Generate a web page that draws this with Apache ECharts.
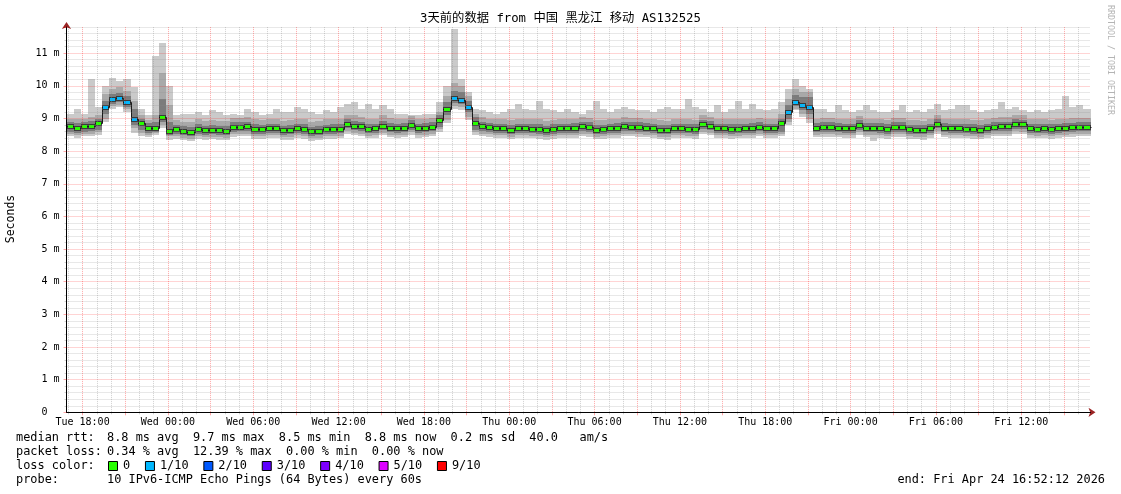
<!DOCTYPE html>
<html><head><meta charset="utf-8">
<style>html,body{margin:0;padding:0;background:#fff}#c{width:1121px;height:494px}</style>
<script src="https://cdn.jsdelivr.net/npm/echarts@6/dist/echarts.min.js"></script>
</head><body><div id="c"></div>
<script>
// ---- time base (hours since Tue 00:00), 30-minute bins ----
const startHour = 16.87;          // Tue 16:52:12
const endHour = 88.87;            // Fri 16:52:12
const binHours = 0.5;
const dayNames = ['Tue', 'Wed', 'Thu', 'Fri'];
const xLabelHours = [18, 24, 30, 36, 42, 48, 54, 60, 66, 72, 78, 84];
const yLabelValues = [0, 1, 2, 3, 4, 5, 6, 7, 8, 9, 10, 11];

// ---- median rtt (ms) per bin ----
const median = [
  8.76, 8.71, 8.76, 8.77, 8.85, 9.35, 9.6, 9.64, 9.5, 9.0, 8.85, 8.7, 8.72, 9.05, 8.62,
  8.67, 8.62, 8.6, 8.68, 8.64, 8.66, 8.64, 8.63, 8.74, 8.75, 8.76, 8.68, 8.67, 8.7, 8.7, 8.64, 8.65, 8.7, 8.68, 8.61, 8.63, 8.67, 8.68, 8.69, 8.84, 8.78, 8.76, 8.69, 8.7,
  8.78, 8.72, 8.7, 8.72, 8.8, 8.7, 8.72, 8.75, 8.95, 9.3, 9.62, 9.58, 9.35, 8.85,
  8.76, 8.73, 8.7, 8.7, 8.66, 8.7, 8.7, 8.69, 8.68, 8.64, 8.68, 8.7, 8.7, 8.71, 8.76, 8.74, 8.66, 8.67, 8.7, 8.71, 8.76, 8.75, 8.74, 8.72, 8.7, 8.66, 8.65, 8.7, 8.7, 8.69, 8.68, 8.82, 8.78, 8.7, 8.7, 8.68, 8.69, 8.7, 8.71,
  8.75, 8.7, 8.7, 8.85, 9.2, 9.52, 9.4, 9.35,
  8.72, 8.74, 8.74, 8.72, 8.7, 8.7, 8.8, 8.72, 8.72, 8.71, 8.68, 8.74, 8.74, 8.67, 8.66, 8.65, 8.7, 8.84, 8.72, 8.7, 8.7, 8.69, 8.68, 8.66, 8.7, 8.75, 8.76, 8.76, 8.83, 8.82, 8.7, 8.69, 8.7, 8.68, 8.7, 8.72, 8.73, 8.75, 8.75
];
// ---- smoke: outermost (min..max ping) ----
const pingMax = [
  9.15, 9.3, 9.15, 10.2, 9.35, 10.0, 10.25, 10.15, 10.2, 9.95, 9.3, 9.1, 10.9, 11.3, 10.0,
  9.1, 9.15, 9.15, 9.2, 9.1, 9.25, 9.2, 9.1, 9.15, 9.1, 9.3, 9.2, 9.1, 9.15, 9.3, 9.2, 9.2, 9.35, 9.3, 9.2, 9.15, 9.25, 9.2, 9.35, 9.45, 9.5, 9.3, 9.45, 9.3,
  9.4, 9.3, 9.15, 9.15, 9.1, 9.1, 9.15, 9.15, 9.5, 10.0, 11.75, 10.2, 9.8, 9.3,
  9.25, 9.2, 9.15, 9.2, 9.3, 9.45, 9.3, 9.25, 9.55, 9.3, 9.25, 9.2, 9.3, 9.2, 9.15, 9.25, 9.55, 9.3, 9.2, 9.3, 9.35, 9.3, 9.25, 9.25, 9.2, 9.3, 9.35, 9.3, 9.3, 9.6, 9.35, 9.3, 9.2, 9.4, 9.2, 9.3, 9.55, 9.3, 9.45,
  9.3, 9.25, 9.3, 9.5, 9.9, 10.2, 10.0, 9.9,
  9.3, 9.3, 9.2, 9.4, 9.25, 9.2, 9.25, 9.4, 9.25, 9.2, 9.2, 9.25, 9.4, 9.2, 9.25, 9.2, 9.3, 9.45, 9.25, 9.3, 9.4, 9.4, 9.25, 9.2, 9.25, 9.3, 9.5, 9.3, 9.35, 9.25, 9.2, 9.25, 9.2, 9.25, 9.3, 9.7, 9.35, 9.4, 9.3
];
const pingMin = [
  8.45, 8.4, 8.45, 8.45, 8.5, 8.9, 9.3, 9.35, 9.2, 8.55, 8.45, 8.42, 8.48, 8.7, 8.35,
  8.38, 8.33, 8.3, 8.38, 8.34, 8.36, 8.35, 8.33, 8.44, 8.45, 8.46, 8.38, 8.37, 8.4, 8.4, 8.34, 8.35, 8.4, 8.38, 8.31, 8.33, 8.37, 8.38, 8.39, 8.54, 8.48, 8.46, 8.39, 8.4,
  8.48, 8.42, 8.4, 8.42, 8.5, 8.4, 8.42, 8.45, 8.6, 8.85, 9.3, 9.25, 8.95, 8.5,
  8.46, 8.43, 8.4, 8.4, 8.36, 8.4, 8.4, 8.39, 8.38, 8.34, 8.38, 8.4, 8.4, 8.41, 8.46, 8.44, 8.36, 8.37, 8.4, 8.41, 8.46, 8.45, 8.44, 8.42, 8.4, 8.36, 8.35, 8.4, 8.4, 8.39, 8.38, 8.52, 8.48, 8.4, 8.4, 8.38, 8.39, 8.4, 8.41,
  8.45, 8.4, 8.4, 8.45, 8.8, 9.25, 9.05, 8.85,
  8.42, 8.44, 8.44, 8.42, 8.4, 8.4, 8.5, 8.42, 8.3, 8.41, 8.38, 8.44, 8.44, 8.37, 8.36, 8.35, 8.4, 8.54, 8.42, 8.4, 8.4, 8.39, 8.38, 8.36, 8.4, 8.45, 8.46, 8.46, 8.53, 8.52, 8.4, 8.39, 8.4, 8.38, 8.4, 8.42, 8.43, 8.45, 8.45
];
// ---- smoke: second band ----
const band2Hi = [
  8.98, 8.98, 9.0, 9.05, 9.1, 9.75, 9.9, 9.95, 9.85, 9.55, 9.1, 8.95, 9.1, 10.4, 9.4,
  8.95, 8.9, 8.9, 8.97, 8.92, 8.95, 8.93, 8.92, 9.02, 9.02, 9.05, 8.97, 8.95, 9.0, 9.0, 8.93, 8.95, 9.0, 8.98, 8.9, 8.93, 8.97, 8.98, 9.0, 9.12, 9.1, 9.05, 9.0, 9.0,
  9.1, 9.02, 8.98, 9.0, 9.08, 8.98, 9.0, 9.03, 9.2, 9.7, 10.1, 10.0, 9.7, 9.15,
  9.04, 9.0, 8.98, 8.98, 8.95, 8.98, 8.98, 8.97, 8.98, 8.92, 8.96, 8.98, 8.98, 9.0, 9.04, 9.02, 8.95, 8.95, 8.98, 9.0, 9.04, 9.03, 9.02, 9.0, 8.98, 8.95, 8.93, 8.98, 8.98, 8.98, 8.96, 9.1, 9.06, 8.98, 8.98, 8.97, 8.98, 8.98, 9.0,
  9.03, 8.98, 8.98, 9.15, 9.6, 9.9, 9.8, 9.8,
  9.0, 9.02, 9.02, 9.0, 8.98, 8.98, 9.08, 9.0, 9.0, 9.0, 8.96, 9.02, 9.02, 8.95, 8.94, 8.93, 8.98, 9.12, 9.0, 8.98, 8.98, 8.97, 8.96, 8.94, 8.98, 9.03, 9.04, 9.04, 9.1, 9.1, 8.98, 8.97, 8.98, 8.96, 8.98, 9.0, 9.01, 9.03, 9.03
];
const band2Lo = [
  8.52, 8.48, 8.52, 8.54, 8.58, 9.0, 9.38, 9.42, 9.28, 8.7, 8.55, 8.5, 8.55, 8.8, 8.45,
  8.45, 8.4, 8.38, 8.46, 8.42, 8.44, 8.42, 8.41, 8.52, 8.53, 8.54, 8.46, 8.45, 8.48, 8.48, 8.42, 8.43, 8.48, 8.46, 8.39, 8.41, 8.45, 8.46, 8.47, 8.62, 8.56, 8.54, 8.47, 8.48,
  8.56, 8.5, 8.48, 8.5, 8.58, 8.48, 8.5, 8.53, 8.68, 8.95, 9.38, 9.35, 9.05, 8.58,
  8.54, 8.51, 8.48, 8.48, 8.44, 8.48, 8.48, 8.47, 8.46, 8.42, 8.46, 8.48, 8.48, 8.49, 8.54, 8.52, 8.44, 8.45, 8.48, 8.49, 8.54, 8.53, 8.52, 8.5, 8.48, 8.44, 8.43, 8.48, 8.48, 8.47, 8.46, 8.6, 8.56, 8.48, 8.48, 8.46, 8.47, 8.48, 8.49,
  8.53, 8.48, 8.48, 8.52, 8.9, 9.3, 9.15, 9.0,
  8.5, 8.52, 8.52, 8.5, 8.48, 8.48, 8.58, 8.5, 8.5, 8.49, 8.46, 8.52, 8.52, 8.45, 8.44, 8.43, 8.48, 8.62, 8.5, 8.48, 8.48, 8.47, 8.46, 8.44, 8.48, 8.53, 8.54, 8.54, 8.61, 8.6, 8.48, 8.47, 8.48, 8.46, 8.48, 8.5, 8.51, 8.53, 8.53
];
// ---- smoke: inner band ----
const band3Hi = [
  8.9, 8.85, 8.9, 8.92, 9.0, 9.55, 9.75, 9.78, 9.68, 9.3, 9.0, 8.85, 8.9, 9.6, 8.9,
  8.81, 8.76, 8.74, 8.82, 8.78, 8.8, 8.78, 8.77, 8.88, 8.89, 8.9, 8.82, 8.81, 8.84, 8.84, 8.78, 8.79, 8.84, 8.82, 8.75, 8.77, 8.81, 8.82, 8.83, 8.98, 8.92, 8.9, 8.83, 8.84,
  8.92, 8.86, 8.84, 8.86, 8.94, 8.84, 8.86, 8.89, 9.1, 9.5, 9.85, 9.8, 9.55, 9.05,
  8.9, 8.87, 8.84, 8.84, 8.8, 8.84, 8.84, 8.83, 8.82, 8.78, 8.82, 8.84, 8.84, 8.85, 8.9, 8.88, 8.8, 8.81, 8.84, 8.85, 8.9, 8.89, 8.88, 8.86, 8.84, 8.8, 8.79, 8.84, 8.84, 8.83, 8.82, 8.96, 8.92, 8.84, 8.84, 8.82, 8.83, 8.84, 8.85,
  8.89, 8.84, 8.84, 9.0, 9.4, 9.72, 9.65, 9.65,
  8.86, 8.88, 8.88, 8.86, 8.84, 8.84, 8.94, 8.86, 8.86, 8.85, 8.82, 8.88, 8.88, 8.81, 8.8, 8.79, 8.84, 8.98, 8.86, 8.84, 8.84, 8.83, 8.82, 8.8, 8.84, 8.89, 8.9, 8.9, 8.97, 8.96, 8.84, 8.83, 8.84, 8.82, 8.84, 8.86, 8.87, 8.89, 8.89
];
const band3Lo = [
  8.6, 8.56, 8.6, 8.62, 8.65, 9.15, 9.45, 9.5, 9.36, 8.8, 8.65, 8.56, 8.6, 8.9, 8.5,
  8.53, 8.48, 8.46, 8.54, 8.5, 8.52, 8.5, 8.49, 8.6, 8.61, 8.62, 8.54, 8.53, 8.56, 8.56, 8.5, 8.51, 8.56, 8.54, 8.47, 8.49, 8.53, 8.54, 8.55, 8.7, 8.64, 8.62, 8.55, 8.56,
  8.64, 8.58, 8.56, 8.58, 8.66, 8.56, 8.58, 8.61, 8.75, 9.1, 9.48, 9.45, 9.2, 8.65,
  8.62, 8.59, 8.56, 8.56, 8.52, 8.56, 8.56, 8.55, 8.54, 8.5, 8.54, 8.56, 8.56, 8.57, 8.62, 8.6, 8.52, 8.53, 8.56, 8.57, 8.62, 8.61, 8.6, 8.58, 8.56, 8.52, 8.51, 8.56, 8.56, 8.55, 8.54, 8.68, 8.64, 8.56, 8.56, 8.54, 8.55, 8.56, 8.57,
  8.61, 8.56, 8.56, 8.6, 9.0, 9.38, 9.25, 9.15,
  8.58, 8.6, 8.6, 8.58, 8.56, 8.56, 8.66, 8.58, 8.58, 8.57, 8.54, 8.6, 8.6, 8.53, 8.52, 8.51, 8.56, 8.7, 8.58, 8.56, 8.56, 8.55, 8.54, 8.52, 8.56, 8.61, 8.62, 8.62, 8.69, 8.68, 8.56, 8.55, 8.56, 8.54, 8.56, 8.58, 8.59, 8.61, 8.61
];
// ---- packet loss per bin (pings lost out of 10) ----
const lossPings = [
  0,0,0,0,0,1,1,1,1,1,0,0,0,0,0,0,0,0,0,0,0,0,0,0,
  0,0,0,0,0,0,0,0,0,0,0,0,0,0,0,0,0,0,0,0,0,0,0,0,
  0,0,0,0,0,0,1,1,1,0,0,0,0,0,0,0,0,0,0,0,0,0,0,0,
  0,0,0,0,0,0,0,0,0,0,0,0,0,0,0,0,0,0,0,0,0,0,0,0,
  0,0,0,0,0,1,1,1,1,0,0,0,0,0,0,0,0,0,0,0,0,0,0,0,
  0,0,0,0,0,0,0,0,0,0,0,0,0,0,0,0,0,0,0,0,0,0,0,0
];
const lossLevels = ['0', '1/10', '2/10', '3/10', '4/10', '5/10', '9/10'];
const lossColors = ['#26ff00', '#00b8ff', '#0059ff', '#5e00ff', '#7e00ff', '#dd00ff', '#ff0000'];

const mono = "'DejaVu Sans Mono', monospace";
const minorCol = 'rgba(140,140,140,0.4)';
const majorCol = 'rgba(255,0,0,0.34)';

function fmtHour(v) {
  const d = Math.floor(v / 24), h = Math.round(v - d * 24);
  return dayNames[d] + ' ' + (h < 10 ? '0' : '') + h + ':00';
}
const hourTicks = [], threeHourTicks = [];
for (let h = Math.ceil(startHour); h <= endHour; h++) {
  if (h % 3 === 0) threeHourTicks.push(h); else hourTicks.push(h);
}
const yMinorTicks = [];
for (let k = 1; k <= 59; k++) if (k % 5 !== 0) yMinorTicks.push(Math.round(k * 2) / 10);

function binRows(lo, hi) {
  return lo.map((v, i) => [startHour + i * binHours, Math.min(endHour, startHour + (i + 1) * binHours), v, hi[i]]);
}
function bandSeries(lo, hi, color, z) {
  return {
    type: 'custom', xAxisIndex: 0, yAxisIndex: 0, z: z, silent: true, clip: true,
    data: binRows(lo, hi), encode: { x: [0, 1], y: [2, 3] },
    renderItem: function (params, api) {
      const a = api.coord([api.value(0), api.value(3)]);
      const b = api.coord([api.value(1), api.value(2)]);
      const x0 = Math.round(a[0]), x1 = Math.round(b[0]);
      const y0 = Math.round(a[1]), y1 = Math.round(b[1]);
      return { type: 'rect', shape: { x: x0, y: y0, width: x1 - x0, height: Math.max(1, y1 - y0) }, style: { fill: color } };
    }
  };
}
const medRows = median.map((v, i) => [startHour + i * binHours, Math.min(endHour, startHour + (i + 1) * binHours), v, i + 1 < median.length ? median[i + 1] : v, lossPings[i]]);

const option = {
  animation: false,
  backgroundColor: '#ffffff',
  grid: { left: 66.5, right: 30.5, top: 27.1, bottom: 81.7, containLabel: false },
  xAxis: [
    { type: 'value', min: startHour, max: endHour, position: 'bottom', z: 8,
      axisLine: { show: true, onZero: false, lineStyle: { color: '#000', width: 1 } },
      axisTick: { show: false }, splitLine: { show: false },
      axisLabel: { customValues: xLabelHours, formatter: fmtHour, fontFamily: mono, fontSize: 10, color: '#000', margin: 5 } },
    { type: 'value', min: startHour, max: endHour, position: 'bottom', z: 5,
      axisLine: { show: true, onZero: false, lineStyle: { color: '#9b2424' }, symbol: ['none', 'arrow'], symbolSize: [7, 7], symbolOffset: [0, 5] },
      axisLabel: { show: false },
      axisTick: { show: true, customValues: hourTicks, length: 2, lineStyle: { color: minorCol } },
      splitLine: { show: true, lineStyle: { color: minorCol, type: [1, 1], width: 1 } } },
    { type: 'value', min: startHour, max: endHour, position: 'bottom', z: 6,
      axisLine: { show: false }, axisLabel: { show: false },
      axisTick: { show: true, customValues: threeHourTicks, length: 3, lineStyle: { color: majorCol } },
      splitLine: { show: true, lineStyle: { color: majorCol, type: [1, 1], width: 1 } } }
  ],
  yAxis: [
    { type: 'value', min: 0, max: 11.8, interval: 1, position: 'left', z: 8,
      axisLine: { show: true, onZero: false, lineStyle: { color: '#000' } },
      axisTick: { show: true, length: 3, lineStyle: { color: majorCol } },
      splitLine: { show: true, showMaxLine: false, showMinLine: false, lineStyle: { color: majorCol, type: [1, 1] } },
      axisLabel: { customValues: yLabelValues, fontFamily: mono, fontSize: 10, color: '#000', margin: 7,
        formatter: v => v === 0 ? '0  ' : v + ' m' } },
    { type: 'value', min: 0, max: 11.8, position: 'left', z: 5,
      axisLine: { show: true, onZero: false, lineStyle: { color: '#9b2424' }, symbol: ['none', 'arrow'], symbolSize: [7, 7], symbolOffset: [0, 5] },
      axisLabel: { show: false },
      axisTick: { show: true, customValues: yMinorTicks, length: 2, lineStyle: { color: minorCol } },
      splitLine: { show: true, lineStyle: { color: minorCol, type: [1, 1] } } }
  ],
  series: [
    bandSeries(pingMin, pingMax, '#cacaca', 1),
    bandSeries(band2Lo, band2Hi, '#a9a9a9', 2),
    bandSeries(band3Lo, band3Hi, '#7c7c7c', 3),
    { type: 'custom', xAxisIndex: 0, yAxisIndex: 0, z: 4, silent: true,
      data: medRows, encode: { x: [0, 1], y: 2 },
      renderItem: function (params, api) {
        const a = api.coord([api.value(0), api.value(2)]);
        const b = api.coord([api.value(1), api.value(3)]);
        const x0 = Math.round(a[0]), x1 = Math.round(b[0]);
        const y0 = Math.round(a[1]), y1 = Math.round(b[1]);
        const col = lossColors[api.value(4)];
        return { type: 'group', children: [
          { type: 'rect', shape: { x: x0, y: y0 - 2, width: x1 - x0, height: 5 }, style: { fill: '#3a3a3a' } },
          { type: 'polyline', shape: { points: [[x0, y0 + 0.5], [x1 + 0.5, y0 + 0.5], [x1 + 0.5, y1 + 0.5]] }, style: { stroke: '#1a1a1a', lineWidth: 1, fill: null } },
          { type: 'rect', shape: { x: x0 + 1, y: y0 - 1, width: Math.max(1, x1 - x0 - 2), height: 3 }, style: { fill: col } }
        ] };
      } }
  ],
  graphic: [
    { type: 'text', left: 'center', top: 13, style: { text: '3天前的数据 from 中国 黑龙江 移动 AS132525', fontFamily: "'DejaVu Sans Mono', 'Noto Sans CJK SC'", fontSize: 12.3, fill: '#000' } },
    { type: 'text', x: 11, y: 219, rotation: Math.PI / 2, style: { text: 'Seconds', fontFamily: mono, fontSize: 11.5, fill: '#000', align: 'center', verticalAlign: 'middle' } },
    { type: 'text', x: 1110.5, y: 60, rotation: -Math.PI / 2, style: { text: 'RRDTOOL / TOBI OETIKER', fontFamily: mono, fontSize: 8.3, fill: '#b4b4b4', align: 'center', verticalAlign: 'middle' } },
    { type: 'text', x: 16, y: 438, style: { text: 'median rtt:', fontFamily: mono, fontSize: 11.9, fill: '#000', verticalAlign: 'middle' } },
    { type: 'text', x: 107, y: 438, style: { text: '8.8 ms avg  9.7 ms max  8.5 ms min  8.8 ms now  0.2 ms sd  40.0   am/s', fontFamily: mono, fontSize: 11.9, fill: '#000', verticalAlign: 'middle' } },
    { type: 'text', x: 16, y: 452, style: { text: 'packet loss:', fontFamily: mono, fontSize: 11.9, fill: '#000', verticalAlign: 'middle' } },
    { type: 'text', x: 107, y: 452, style: { text: '0.34 % avg  12.39 % max  0.00 % min  0.00 % now', fontFamily: mono, fontSize: 11.9, fill: '#000', verticalAlign: 'middle' } },
    { type: 'text', x: 16, y: 466, style: { text: 'loss color:', fontFamily: mono, fontSize: 11.9, fill: '#000', verticalAlign: 'middle' } },
    { type: 'text', x: 16, y: 480, style: { text: 'probe:', fontFamily: mono, fontSize: 11.9, fill: '#000', verticalAlign: 'middle' } },
    { type: 'text', x: 107, y: 480, style: { text: '10 IPv6-ICMP Echo Pings (64 Bytes) every 60s', fontFamily: mono, fontSize: 11.9, fill: '#000', verticalAlign: 'middle' } },
    { type: 'text', x: 1105, y: 480, style: { text: 'end: Fri Apr 24 16:52:12 2026', fontFamily: mono, fontSize: 11.9, fill: '#000', align: 'right', verticalAlign: 'middle' } }
  ].concat((function () {
    const out = [];
    let x = 108;
    lossLevels.forEach((lab, i) => {
      out.push({ type: 'rect', shape: { x: x + 0.5, y: 461.5, width: 9, height: 9 }, style: { fill: lossColors[i], stroke: '#000', lineWidth: 1 } });
      out.push({ type: 'text', x: x + 15, y: 466, style: { text: lab, fontFamily: mono, fontSize: 11.9, fill: '#000', verticalAlign: 'middle' } });
      x += 15 + (lab.length + 2) * 7.15 + 0.5;
    });
    return out;
  })())
};
const chart = echarts.init(document.getElementById('c'), null, { renderer: 'canvas' });
chart.setOption(option);
</script>
</body></html>
